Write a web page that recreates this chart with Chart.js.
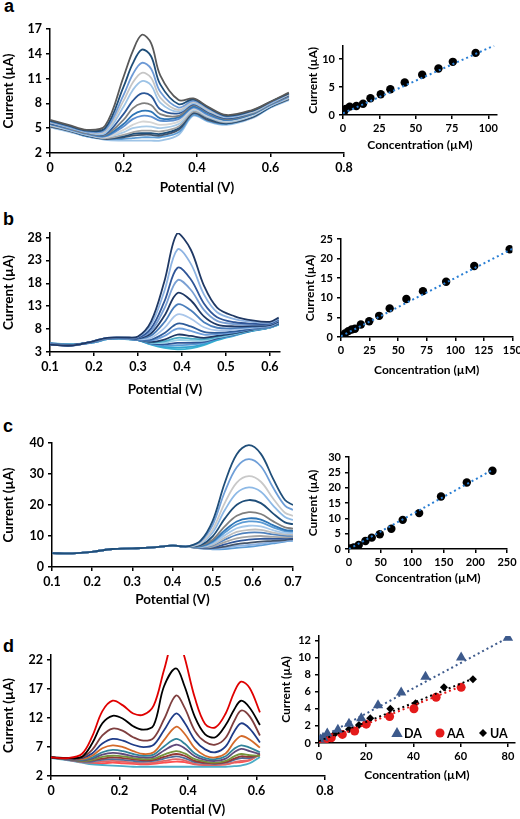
<!DOCTYPE html>
<html><head><meta charset="utf-8">
<script src="https://cdn.jsdelivr.net/npm/chart.js@4.4.0/dist/chart.umd.min.js"></script>
<style>
html,body{margin:0;padding:0;background:#fff;}
body{width:520px;height:819px;overflow:hidden;position:relative;}
canvas{position:absolute;}
.lbl{position:absolute;font:bold 18px "Liberation Sans",Arial,sans-serif;line-height:18px;color:#000;}
</style></head><body>
<div class="lbl" style="left:4px;top:-3px">a</div>
<div class="lbl" style="left:3px;top:210px">b</div>
<div class="lbl" style="left:3px;top:417px">c</div>
<div class="lbl" style="left:3px;top:637px">d</div>
<script>
// ---------------- DATA ----------------
// Panel a: DPV curves
const potA = [0, 0.05, 0.1, 0.15, 0.2, 0.225, 0.25, 0.275, 0.3, 0.35, 0.39, 0.43, 0.48, 0.55, 0.6, 0.65];
const curvesA = [
 [6.0,5.4,4.8,5.3,11.2,14.3,16.3,15.3,11.4,8.4,8.6,7.6,6.6,7.2,8.2,9.3],
 [5.9,5.3,4.7,5.0,10.0,12.8,14.5,13.7,10.3,7.9,8.5,7.5,6.5,7.1,8.2,9.2],
 [5.8,5.2,4.6,4.8,9.0,11.5,12.9,12.2,9.4,7.5,8.3,7.4,6.4,7.1,8.1,9.2],
 [5.7,5.2,4.6,4.6,8.3,10.5,11.7,11.1,8.7,7.2,8.2,7.2,6.4,7.0,8.1,9.1],
 [5.7,5.1,4.5,4.4,7.6,9.6,10.7,10.2,8.1,7.0,8.0,7.1,6.3,6.9,8.0,9.1],
 [5.6,5.1,4.5,4.3,6.7,8.3,9.2,8.9,7.3,6.8,7.9,7.0,6.2,6.9,8.0,9.0],
 [5.6,5.0,4.4,4.2,6.0,7.4,8.0,7.8,6.7,6.5,7.8,6.9,6.1,6.8,7.9,8.9],
 [5.5,5.0,4.4,4.1,5.5,6.6,7.1,7.0,6.2,6.3,7.6,6.8,6.0,6.7,7.9,8.9],
 [5.5,4.9,4.3,4.0,5.2,6.1,6.5,6.4,5.9,6.1,7.5,6.6,6.0,6.7,7.8,8.8],
 [5.4,4.9,4.3,3.9,4.8,5.4,5.8,5.7,5.4,5.8,7.3,6.5,5.9,6.6,7.8,8.8],
 [5.4,4.8,4.2,3.9,4.5,5.0,5.2,5.2,5.0,5.5,7.2,6.4,5.8,6.5,7.7,8.7],
 [5.3,4.8,4.2,3.8,4.2,4.5,4.7,4.7,4.6,5.2,7.0,6.3,5.7,6.5,7.7,8.6],
 [5.3,4.8,4.1,3.8,4.0,4.3,4.4,4.4,4.3,5.0,6.9,6.2,5.6,6.4,7.6,8.6],
 [5.2,4.7,4.1,3.7,3.9,4.1,4.2,4.2,4.1,4.8,6.8,6.0,5.6,6.3,7.6,8.5],
 [5.2,4.7,4.0,3.7,3.7,3.8,3.9,3.9,3.9,4.5,6.6,5.9,5.5,6.3,7.5,8.5],
 [5.1,4.6,4.0,3.6,3.5,3.5,3.5,3.5,3.5,4.2,6.5,5.8,5.4,6.2,7.5,8.4]
];
const xTicksA = [0, 0.2, 0.4, 0.6, 0.8];
const yTicksA = [2, 5, 8, 11, 14, 17];
// Panel a calibration
const concA = [0.5, 2, 4.6, 9.2, 13.8, 18.9, 26, 32.6, 42.5, 54.5, 65.7, 75.6, 91.3];
const currA = [0.5, 1.1, 1.5, 1.6, 2.0, 3.0, 3.7, 4.6, 5.8, 7.2, 8.3, 9.5, 11.1];
const fitAx = [0, 104];
const fitAy = [0.3, 12.4];
const xTicksA2 = [0, 25, 50, 75, 100];
const yTicksA2 = [0, 5, 10];

// Panel b
const potB = [0.1, 0.15, 0.2, 0.23, 0.27, 0.3, 0.33, 0.36, 0.39, 0.42, 0.45, 0.48, 0.52, 0.56, 0.6, 0.62];
const curvesB = [
 [4.6,4.4,5.4,6.1,6.2,6.4,9.7,18.4,29.0,25.4,17.5,12.7,10.8,9.9,9.6,10.5],
 [4.6,4.4,5.4,6.1,6.2,6.3,9.0,16.3,25.4,22.3,15.6,11.7,10.2,9.6,9.4,10.3],
 [4.6,4.4,5.4,6.1,6.1,6.1,8.2,14.0,21.4,18.9,13.6,10.6,9.5,9.2,9.2,10.1],
 [4.7,4.4,5.3,6.0,6.1,6.1,7.6,12.5,18.7,16.6,12.2,9.8,9.1,9.0,9.1,9.9],
 [4.7,4.5,5.3,6.0,6.1,6.0,7.1,10.9,15.9,14.3,10.8,9.0,8.6,8.7,8.9,9.7],
 [4.7,4.5,5.3,6.0,6.0,5.9,6.6,9.5,13.4,12.1,9.5,8.3,8.2,8.5,8.8,9.6],
 [4.7,4.5,5.3,6.0,6.0,5.8,6.1,8.2,11.2,10.3,8.4,7.7,7.9,8.3,8.7,9.5],
 [4.7,4.5,5.3,6.0,6.0,5.8,5.7,7.1,9.2,8.6,7.4,7.2,7.5,8.1,8.6,9.3],
 [4.8,4.5,5.2,5.9,6.0,5.7,5.5,6.5,8.1,7.6,6.8,6.9,7.3,8.0,8.5,9.3],
 [4.8,4.5,5.2,5.9,6.0,5.7,5.2,5.7,6.8,6.5,6.1,6.5,7.1,7.9,8.5,9.2],
 [4.8,4.6,5.2,5.9,6.0,5.7,5.1,5.3,6.1,5.9,5.8,6.3,7.0,7.8,8.4,9.2],
 [4.8,4.6,5.2,5.9,5.9,5.7,5.0,5.0,5.6,5.5,5.5,6.2,6.9,7.8,8.4,9.1],
 [4.9,4.6,5.2,5.9,5.9,5.6,4.9,4.7,5.0,5.0,5.2,6.0,6.8,7.7,8.4,9.1],
 [4.9,4.6,5.1,5.8,5.9,5.6,4.8,4.4,4.5,4.6,5.0,5.9,6.7,7.7,8.3,9.1],
 [4.9,4.6,5.1,5.8,5.9,5.6,4.7,4.1,4.0,4.1,4.7,5.7,6.7,7.6,8.3,9.0],
 [4.9,4.7,5.1,5.8,5.8,5.6,4.6,3.9,3.6,3.8,4.5,5.6,6.6,7.6,8.3,9.0]
];
const xTicksB = [0.1, 0.2, 0.3, 0.4, 0.5, 0.6];
const yTicksB = [3, 8, 13, 18, 23, 28];
const concB = [0.6, 3.5, 6.4, 9.3, 12.2, 17.4, 24.7, 33.4, 42.6, 57.2, 71.7, 92, 116.6, 147.6];
const currB = [0.2, 0.9, 1.5, 1.9, 2.1, 3.2, 4.0, 5.4, 7.3, 9.7, 11.7, 14.1, 18.1, 22.4];
const fitBx = [0, 152];
const fitBy = [0.2, 22.8];
const xTicksB2 = [0, 25, 50, 75, 100, 125, 150];
const yTicksB2 = [0, 5, 10, 15, 20, 25];

// Panel c
const potC = [0.1, 0.15, 0.2, 0.25, 0.3, 0.35, 0.4, 0.42, 0.44, 0.47, 0.5, 0.53, 0.56, 0.59, 0.62, 0.65, 0.68, 0.7];
const baseC = [4.5, 4.4, 4.9, 5.8, 6.0, 6.3, 6.9, 6.7];
const peakC = [
 [6.7,8.5,14.9,27.1,36.4,39.3,36.5,28.6,21.6,20.0],
 [6.7,8.2,13.6,24.2,32.2,34.8,32.5,25.7,19.8,18.4],
 [6.6,7.7,12.1,20.6,27.2,29.3,27.5,22.2,17.5,16.5],
 [6.6,7.5,11.1,18.3,23.9,25.7,24.3,19.9,16.1,15.2],
 [6.6,7.1,9.9,15.6,20.1,21.6,20.6,17.3,14.4,13.8],
 [6.6,6.9,8.8,13.1,16.5,17.7,17.1,14.8,12.8,12.4],
 [6.6,6.7,8.3,11.8,14.7,15.7,15.3,13.5,12.0,11.7],
 [6.5,6.6,8.0,11.1,13.7,14.7,14.4,12.8,11.6,11.4],
 [6.5,6.5,7.6,10.2,12.5,13.3,13.1,11.9,11.0,10.9],
 [6.5,6.4,7.2,9.4,11.3,12.0,12.0,11.1,10.5,10.4],
 [6.5,6.3,7.0,8.8,10.4,11.1,11.1,10.5,10.1,10.1],
 [6.5,6.3,6.6,8.0,9.2,9.8,10.0,9.7,9.6,9.7],
 [6.5,6.2,6.3,7.3,8.3,8.8,9.1,9.1,9.1,9.3],
 [6.5,6.1,6.1,6.6,7.4,7.8,8.2,8.4,8.7,9.0],
 [6.5,6.0,5.9,6.2,6.8,7.1,7.5,8.0,8.4,8.7],
 [6.5,6.0,5.7,5.8,6.2,6.5,7.0,7.6,8.2,8.5]
];
const xTicksC = [0.1, 0.2, 0.3, 0.4, 0.5, 0.6, 0.7];
const yTicksC = [0, 10, 20, 30, 40];
const concC = [0, 1, 3.7, 7.4, 15.4, 26, 36, 48.7, 67, 85, 111, 145.6, 186.4, 227];
const currC = [0, 0.1, 0.2, 0.5, 1.3, 2.6, 3.7, 4.8, 6.6, 9.5, 11.7, 17.1, 21.7, 25.5];
const fitCx = [0, 228];
const fitCy = [0, 25.9];
const xTicksC2 = [0, 50, 100, 150, 200, 250];
const yTicksC2 = [0, 5, 10, 15, 20, 25, 30];

// Panel d
const potD = [0, 0.05, 0.09, 0.12, 0.15, 0.18, 0.21, 0.24, 0.27, 0.3, 0.33, 0.365, 0.39, 0.42, 0.45, 0.48, 0.51, 0.535, 0.555, 0.58, 0.61];
const curvesD = [
 [5.2,5.1,5.8,8.8,13.2,15.0,14.2,12.8,12.6,14.2,20.3,27.0,22.5,15.5,11.0,10.4,12.8,16.5,18.3,17.2,13.0],
 [5.2,5.1,5.3,7.6,11.1,12.4,11.9,10.6,10.0,10.8,17.5,20.6,17.5,12.2,9.2,8.7,10.8,13.5,15.0,13.8,10.8],
 [5.2,5.1,5.2,6.5,9.0,10.2,9.8,8.7,8.1,8.6,11.8,15.9,13.8,9.8,7.9,7.4,8.6,11.5,13.3,12.3,9.0],
 [5.2,5.0,5.1,5.9,7.6,8.4,8.1,7.4,7.0,7.4,9.9,12.8,11.2,8.2,6.6,6.1,7.1,9.7,11.1,10.2,7.8],
 [5.2,5.0,4.9,5.5,6.8,7.3,7.0,6.3,5.8,6.1,8.2,10.5,9.3,6.8,5.5,5.2,5.9,7.9,8.9,8.3,6.9],
 [5.2,5.0,4.8,5.2,6.1,6.5,6.3,5.8,5.5,5.7,7.1,8.4,7.6,5.9,5.1,4.9,5.4,6.7,7.3,6.9,6.1],
 [5.2,4.9,4.7,5.0,5.7,6.0,5.8,5.4,5.2,5.3,6.4,7.4,6.8,5.4,4.8,4.6,5.0,6.1,6.7,6.3,5.8],
 [5.2,4.9,4.6,4.8,5.3,5.5,5.4,5.1,4.9,5.0,5.7,6.3,5.9,4.9,4.5,4.3,4.6,5.4,5.8,5.6,5.5],
 [5.2,4.9,4.6,4.7,5.0,5.2,5.1,4.9,4.7,4.8,5.3,5.8,5.5,4.6,4.3,4.2,4.4,5.0,5.4,5.3,5.6],
 [5.2,4.8,4.5,4.5,4.8,4.9,4.8,4.6,4.5,4.6,5.0,5.4,5.1,4.4,4.2,4.1,4.3,4.8,5.1,5.1,5.6],
 [5.2,4.8,4.4,4.3,4.5,4.6,4.5,4.3,4.2,4.3,4.6,4.9,4.7,4.1,3.9,3.9,4.0,4.4,4.6,4.8,5.7],
 [5.1,4.7,4.3,4.0,3.9,3.8,3.7,3.6,3.6,3.6,3.6,3.6,3.6,3.6,3.6,3.6,3.6,3.7,3.8,4.2,5.3],
 [5.2,4.8,4.4,4.2,4.2,4.3,4.2,4.1,4.0,4.1,4.3,4.5,4.4,4.0,3.9,3.9,4.0,4.3,4.4,4.7,5.8]
];
const xTicksD = [0, 0.2, 0.4, 0.6, 0.8];
const yTicksD = [2, 7, 12, 17, 22];
const legendNamesD = ['DA', 'AA', 'UA'];
const concDA = [0.6, 1.7, 3.5, 8, 12.7, 17.9, 25, 34.8, 45.1, 60.2, 80];
const currDA = [0.4, 0.6, 1.1, 1.55, 2.25, 2.9, 4.4, 5.9, 7.75, 10.0, 12.3];
const concAA = [1, 2.4, 5.2, 9.9, 15.1, 20, 29.9, 40.2, 49.6, 60.2];
const currAA = [0.1, 0.3, 0.6, 1.0, 1.4, 2.2, 3.1, 4.0, 5.35, 6.5];
const concUA = [0.6, 1.7, 3.5, 6.6, 12.7, 16.9, 21.7, 30.2, 40.9, 52.9, 65.2];
const currUA = [0.2, 0.4, 0.65, 1.05, 1.6, 2.1, 2.9, 4.0, 4.65, 6.5, 7.45];
const fitDAx = [0, 80], fitDAy = [0.5, 12.3];
const fitAAx = [0, 60], fitAAy = [0.0, 6.6];
const fitUAx = [0, 65], fitUAy = [0.2, 7.5];
const xTicksD2 = [0, 20, 40, 60, 80];
const yTicksD2 = [0, 2, 4, 6, 8, 10, 12];

// ---------------- STYLES ----------------
const colorsA = ['#595959','#1f4e79','#6d9ad6','#c6c6c6','#9dc3e6','#2b5797','#7f7f7f','#2e75b6','#5b8fd0','#d5d5d5','#a9cbe8','#a6a6a6','#1f4e79','#44546a','#5b9bd5','#9dc3e6'];
const colorsB = ['#1f3864','#8db3e2','#2f5597','#7aa0d4','#1f3864','#4a7ebb','#a9c6ea','#2e5c9a','#6fa0dc','#1f3864','#4bacc6','#9bd0e6','#2f5597','#5b9bd5','#31a4d0','#3cb4d2'];
const colorsC = ['#1f4e79','#6f9fd8','#c9c9c9','#8db9e6','#1f4e79','#7f7f7f','#2e75b6','#5b9bd5','#a6c8ea','#bfbfbf','#4f81bd','#a6a6a6','#2f5597','#44546a','#8eb4e3','#5b9bd5'];
const colorsD = ['#e00000','#000000','#7f3f3f','#1f3c88','#d46a2a','#31849b','#604a7b','#77933c','#953735','#4f6d9a','#e06666','#4bacc6','#ff5050'];
const FAM = 'Lato, "Open Sans", sans-serif';
const fitBlue = '#2a7fd4';
const daColor = '#3d5a8c';

function fmt(v){ return String(parseFloat(Number(v).toFixed(3))); }
function pts(xs, ys){ return xs.map((x,i)=>({x:x, y:ys[i]})); }
function curveSets(xs, rows, colors, w){
  return rows.map((r,i)=>({data:pts(xs,r), borderColor:colors[i], borderWidth:w, pointRadius:0, tension:0.35, fill:false}));
}
function calSets(cx, cy, fx, fy){
  return [
    {data:pts(fx,fy), borderColor:fitBlue, borderWidth:2, borderDash:[2,3], pointRadius:0, fill:false, order:0},
    {data:pts(cx,cy), showLine:false, pointRadius:4.2, pointBackgroundColor:'#000', pointBorderColor:'#000', pointBorderWidth:0, order:1}
  ];
}

function makeChart(c){
  const [L,T,W,H] = c.box; const [al,at,ar,ab] = c.area;
  const cv = document.createElement('canvas');
  cv.width = W; cv.height = H;
  cv.style.left = L+'px'; cv.style.top = T+'px'; cv.style.width = W+'px'; cv.style.height = H+'px';
  document.body.appendChild(cv);
  const tlh = c.titleSize*1.2;
  const axisCommon = {
    grid:{drawOnChartArea:false, drawTicks:true, tickLength:4, color:'#000', lineWidth:1.5},
    border:{color:'#000', width:1.5}
  };
  new Chart(cv, {
    type:'line',
    data:{datasets:c.datasets},
    options:{
      responsive:false, animation:false, devicePixelRatio:1,
      layout:{autoPadding:false, padding:{left:0, top:at-T, right:L+W-ar, bottom:0}},
      plugins:{legend:{display:false}, tooltip:{enabled:false}},
      scales:{
        x:Object.assign({type:'linear', min:c.xr[0], max:c.xr[1],
          afterFit:s=>{ s.height = T+H-ab; },
          afterBuildTicks:s=>{ s.ticks = c.xt.map(v=>({value:v})); },
          ticks:{font:{family:FAM, weight:'bold', size:c.tickSize}, color:'#000', padding:c.xpad, autoSkip:false, maxRotation:0, callback:v=>fmt(v)},
          title:{display:true, text:c.xtitle, color:'#000', font:{family:FAM, weight:'bold', size:c.titleSize}, padding:{top:0, bottom:T+H-c.xTitleY-tlh/2}}
        }, axisCommon),
        y:Object.assign({type:'linear', min:c.yr[0], max:c.yr[1],
          afterFit:s=>{ s.width = al-L; },
          afterBuildTicks:s=>{ s.ticks = c.yt.map(v=>({value:v})); },
          ticks:{font:{family:FAM, weight:'bold', size:c.tickSize}, color:'#000', padding:c.ypad, autoSkip:false, callback:v=>fmt(v)},
          title:{display:true, text:c.ytitle, color:'#000', font:{family:FAM, weight:'bold', size:c.titleSize}, padding:{top:c.yTitleX-L-tlh/2, bottom:0}}
        }, axisCommon)
      }
    },
    plugins:c.plugins||[]
  });
}

const MAIN = {tickSize:12.5, titleSize:13.5, xpad:3, ypad:4};
const INS = {tickSize:11, titleSize:12, xpad:3, ypad:4};

// Panel a
makeChart(Object.assign({}, MAIN, {box:[0,0,362,200], area:[50,29,344,153], xr:[0,0.8], yr:[2,17], xt:xTicksA, yt:yTicksA,
  xtitle:'Potential (V)', ytitle:'Current (µA)', xTitleY:188, yTitleX:9, datasets:curveSets(potA, curvesA, colorsA, 1.8)}));
makeChart(Object.assign({}, INS, {box:[280,35,240,125], area:[343,45,497,115], xr:[0,106], yr:[0,12.4], xt:xTicksA2, yt:yTicksA2,
  xtitle:'Concentration (µM)', ytitle:'Current (µA)', xTitleY:145, yTitleX:313, datasets:calSets(concA, currA, fitAx, fitAy)}));

// Panel b
makeChart(Object.assign({}, MAIN, {box:[0,205,300,200], area:[50,233,280,352], xr:[0.1,0.623], yr:[3,29], xt:xTicksB, yt:yTicksB,
  xtitle:'Potential (V)', ytitle:'Current (µA)', xTitleY:390, yTitleX:9, datasets:curveSets(potB, curvesB, colorsB, 1.8)}));
makeChart(Object.assign({}, INS, {box:[280,228,245,150], area:[341,239,513,337], xr:[0,150], yr:[0,25], xt:xTicksB2, yt:yTicksB2,
  xtitle:'Concentration (µM)', ytitle:'Current (µA)', xTitleY:370, yTitleX:310, datasets:calSets(concB, currB, fitBx, fitBy)}));

// Panel c
makeChart(Object.assign({}, MAIN, {box:[0,415,310,200], area:[52,443,293,567], xr:[0.1,0.7], yr:[0,40], xt:xTicksC, yt:yTicksC,
  xtitle:'Potential (V)', ytitle:'Current (µA)', xTitleY:600, yTitleX:9,
  datasets:curveSets(potC, peakC.map(r=>baseC.concat(r)), colorsC, 1.8)}));
makeChart(Object.assign({}, INS, {box:[280,445,245,145], area:[349,457,507,549], xr:[0,250], yr:[0,30], xt:xTicksC2, yt:yTicksC2,
  xtitle:'Concentration (µM)', ytitle:'Current (µA)', xTitleY:578, yTitleX:313, datasets:calSets(concC, currC, fitCx, fitCy)}));

// Panel d
makeChart(Object.assign({}, MAIN, {box:[0,630,340,189], area:[51,655,325,776], xr:[0,0.8], yr:[2,22.9], xt:xTicksD, yt:yTicksD,
  xtitle:'Potential (V)', ytitle:'Current (µA)', xTitleY:810, yTitleX:9, datasets:curveSets(potD, curvesD, colorsD, 1.8)}));

const markD = [['triangle',daColor,6],['circle','#e41a1a',4.5],['rectRot','#000000',4]];
function drawMark(ctx, style, color, r, x, y){
  ctx.fillStyle = color; ctx.beginPath();
  if (style==='triangle'){ ctx.moveTo(x, y-r); ctx.lineTo(x+r*0.95, y+r*0.65); ctx.lineTo(x-r*0.95, y+r*0.65); ctx.closePath(); }
  else if (style==='circle'){ ctx.arc(x, y, r, 0, Math.PI*2); }
  else { ctx.moveTo(x, y-r); ctx.lineTo(x+r, y); ctx.lineTo(x, y+r); ctx.lineTo(x-r, y); ctx.closePath(); }
  ctx.fill();
}
const legendD = {id:'legendD', afterDraw(chart){
  const ctx = chart.ctx, a = chart.chartArea;
  ctx.save();
  ctx.font = 'bold 12.5px ' + FAM; ctx.textBaseline = 'middle'; ctx.textAlign = 'left';
  const y = a.bottom - 10;
  legendNamesD.forEach((n,i)=>{
    const x = a.left + 78 + i*43;
    drawMark(ctx, markD[i][0], markD[i][1], markD[i][2], x, y);
    ctx.fillStyle = '#000'; ctx.fillText(n, x+7, y+1);
  });
  ctx.restore();
}};
const dInset = [
  {data:pts(fitDAx,fitDAy), borderColor:daColor, borderWidth:2, borderDash:[2,3], pointRadius:0, order:0},
  {data:pts(fitAAx,fitAAy), borderColor:'#e41a1a', borderWidth:2, borderDash:[2,3], pointRadius:0, order:0},
  {data:pts(fitUAx,fitUAy), borderColor:'#000', borderWidth:2, borderDash:[2,3], pointRadius:0, order:0},
  {data:pts(concDA,currDA), showLine:false, pointStyle:'triangle', pointRadius:6, pointBackgroundColor:daColor, pointBorderWidth:0, order:1},
  {data:pts(concAA,currAA), showLine:false, pointStyle:'circle', pointRadius:4.5, pointBackgroundColor:'#e41a1a', pointBorderWidth:0, order:1},
  {data:pts(concUA,currUA), showLine:false, pointStyle:'rectRot', pointRadius:4, pointBackgroundColor:'#000', pointBorderWidth:0, order:1}
];
makeChart(Object.assign({}, INS, {box:[270,625,250,165], area:[319,636,515,743], xr:[0,83], yr:[0,12.5], xt:xTicksD2, yt:yTicksD2,
  xtitle:'Concentration (µM)', ytitle:'Current (µA)', xTitleY:775, yTitleX:286, datasets:dInset, plugins:[legendD]}));
</script>
</body></html>
